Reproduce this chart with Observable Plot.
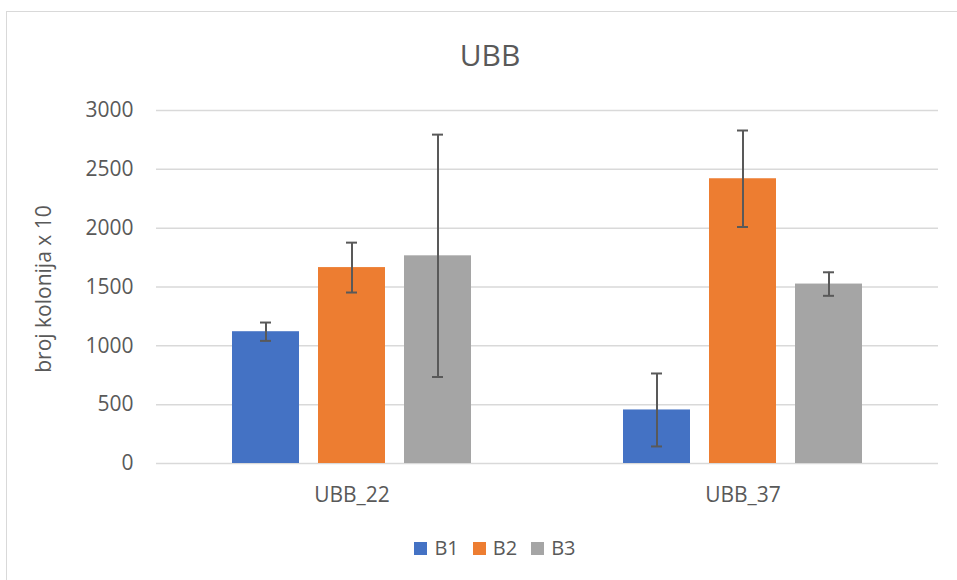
<!DOCTYPE html>
<html>
<head>
<meta charset="utf-8">
<script src="https://cdn.jsdelivr.net/npm/d3@7"></script>
<script src="https://cdn.jsdelivr.net/npm/@observablehq/plot@0.6"></script>
<style>
  html, body { margin: 0; padding: 0; background: #fff; }
  body { width: 957px; height: 580px; position: relative; overflow: hidden; font-family: "Open Sans", sans-serif; color: #595959; }
  #frame { position: absolute; left: 6px; top: 11px; width: 980px; height: 600px; border: 1px solid #d9d9d9; box-sizing: border-box; }
  #title { position: absolute; left: 0; width: 980px; top: 37px; text-align: center; font-size: 30px; line-height: 36px; }
  #ylabel { position: absolute; left: 43px; top: 289px; transform: translate(-50%, -50%) rotate(-90deg); font-size: 21px; white-space: nowrap; }
  #chart { position: absolute; left: 0; top: 90px; }
  #legend { position: absolute; left: 0; width: 990px; top: 535px; display: flex; justify-content: center; align-items: center; font-size: 20px; line-height: 26px; }
  .item { display: flex; align-items: center; margin: 0 7px; }
  .sw { width: 13px; height: 13px; margin-right: 7px; }
</style>
</head>
<body>
<div id="frame"></div>
<div id="title">UBB</div>
<div id="ylabel">broj kolonija x 10</div>
<div id="chart"></div>
<div id="legend"></div>
<script>
const groups = ["UBB_22", "UBB_37"];
const series = ["B1", "B2", "B3"];
const colors = ["#4472C4", "#ED7D31", "#A5A5A5"];
const meansUBB22 = [1120, 1665, 1765];
const errsUBB22 = [78, 212, 1030];
const meansUBB37 = [455, 2420, 1525];
const errsUBB37 = [310, 410, 100];
const yTicks = [0, 500, 1000, 1500, 2000, 2500, 3000];

const means = [meansUBB22, meansUBB37];
const errs = [errsUBB22, errsUBB37];
const data = [];
groups.forEach((g, gi) => series.forEach((s, si) => {
  data.push({group: g, series: s, value: means[gi][si], err: errs[gi][si]});
}));

const chart = Plot.plot({
  width: 957,
  height: 420,
  marginTop: 20,
  marginBottom: 47,
  marginLeft: 155,
  marginRight: 19,
  style: {fontFamily: "Open Sans, sans-serif", fontSize: "21px", color: "#595959", background: "transparent"},
  fx: {domain: groups, padding: 0, label: null},
  x: {domain: series, paddingInner: 0.22, paddingOuter: 0.86, axis: null},
  y: {domain: [0, 3000], label: null},
  color: {domain: series, range: colors},
  marks: [
    Plot.gridY({ticks: yTicks, stroke: "#d9d9d9", strokeOpacity: 1, strokeWidth: 1.5}),
    Plot.axisY({ticks: yTicks, tickFormat: d => String(d), tickSize: 0, tickPadding: 23, label: null, fill: "#595959"}),
    Plot.axisFx({anchor: "bottom", tickSize: 0, tickPadding: 24, label: null, fill: "#595959"}),
    Plot.barY(data, {fx: "group", x: "series", y: "value", fill: "series"}),
    Plot.ruleX(data, {fx: "group", x: "series", y1: d => d.value - d.err, y2: d => d.value + d.err, stroke: "#595959", strokeWidth: 2}),
    Plot.tickY(data, {fx: "group", x: "series", y: d => d.value - d.err, stroke: "#595959", strokeWidth: 2, insetLeft: 28, insetRight: 28}),
    Plot.tickY(data, {fx: "group", x: "series", y: d => d.value + d.err, stroke: "#595959", strokeWidth: 2, insetLeft: 28, insetRight: 28})
  ]
});
document.getElementById("chart").appendChild(chart);

const legend = document.getElementById("legend");
series.forEach((s, i) => {
  const item = document.createElement("div");
  item.className = "item";
  const sw = document.createElement("div");
  sw.className = "sw";
  sw.style.background = colors[i];
  const t = document.createElement("span");
  t.textContent = s;
  item.appendChild(sw);
  item.appendChild(t);
  legend.appendChild(item);
});
</script>
</body>
</html>
